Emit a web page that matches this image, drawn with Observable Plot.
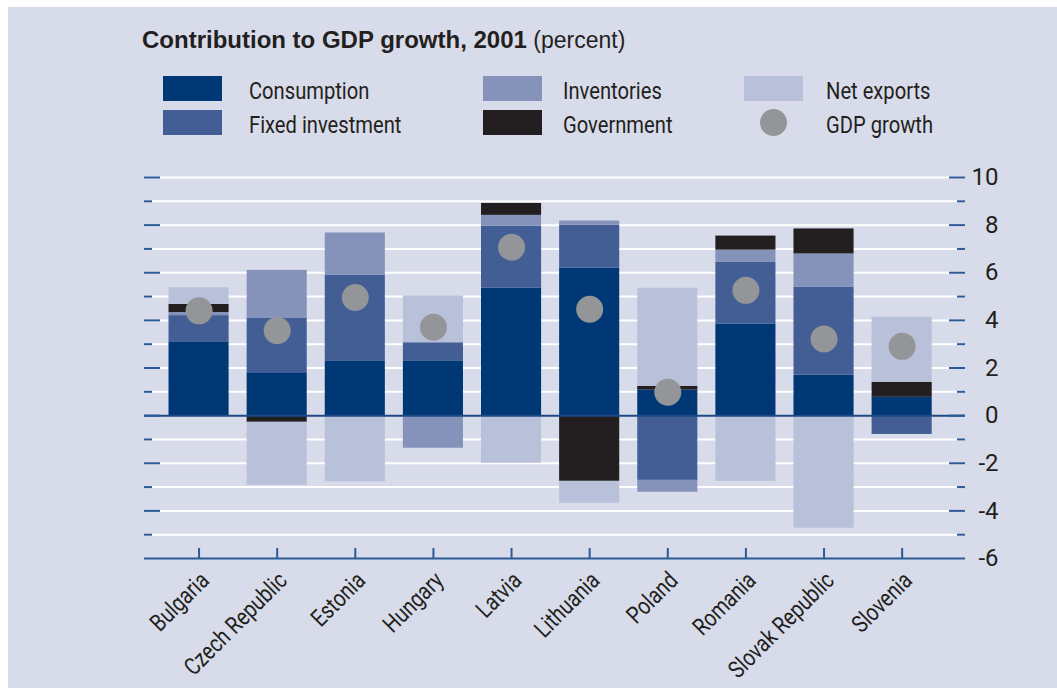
<!DOCTYPE html>
<html>
<head>
<meta charset="utf-8">
<script src="https://cdn.jsdelivr.net/npm/d3@7"></script>
<script src="https://cdn.jsdelivr.net/npm/@observablehq/plot@0.6"></script>
<style>
  html, body { margin: 0; padding: 0; background: #ffffff; }
  body { width: 1057px; height: 688px; position: relative; overflow: hidden; }
  #panel { position: absolute; left: 8px; top: 7px; width: 1049px; height: 681px; background: #d8dbe9; }
  .txt { font-family: "Roboto", sans-serif; color: #231f20; }
  #title { position: absolute; left: 142px; top: 26px; font-family: "Liberation Sans", "Open Sans", sans-serif; font-size: 24px; color: #231f20; white-space: nowrap; }
  #title b { font-weight: bold; }
  #title span { font-size: 23px; }
  .sw { position: absolute; width: 59px; height: 25px; }
  .lab { position: absolute; font-size: 24px; line-height: 26px; white-space: nowrap; transform: scaleX(0.84); transform-origin: 0 50%; }
  .dotsw { position: absolute; width: 27px; height: 27px; border-radius: 50%; background: #939598; }
  #chart { position: absolute; left: 0; top: 150px; }
</style>
</head>
<body>
<div id="panel"></div>
<div id="title"><b>Contribution to GDP growth, 2001</b><span> (percent)</span></div>
<div id="legend"></div>
<div id="chart"></div>
<script>
// ---- data ----
const countries = ["Bulgaria", "Czech Republic", "Estonia", "Hungary", "Latvia", "Lithuania", "Poland", "Romania", "Slovak Republic", "Slovenia"];
const components = ["Consumption", "Fixed investment", "Inventories", "Government", "Net exports"];
const consumption     = [3.1, 1.8, 2.3, 2.3, 5.35, 6.2, 1.07, 3.85, 1.7, 0.77];
const fixedInvestment = [1.1, 2.3, 3.6, 0.76, 2.6, 1.8, -2.72, 2.6, 3.7, -0.79];
const inventories     = [0.13, 2.0, 1.77, -1.37, 0.46, 0.17, -0.5, 0.5, 1.39, 0];
const government      = [0.34, -0.28, 0, 0, 0.5, -2.76, 0.16, 0.59, 1.05, 0.63];
const netExports      = [0.7, -2.65, -2.78, 1.97, -2.0, -0.92, 4.12, -2.76, -4.73, 2.73];
const gdpGrowth       = [4.4, 3.57, 4.96, 3.71, 7.07, 4.47, 0.98, 5.26, 3.22, 2.91];
const yTicks = [-6, -4, -2, 0, 2, 4, 6, 8, 10];
const yMinorTicks = [-5, -3, -1, 1, 3, 5, 7, 9];
const gridLines = [-5, -4, -3, -2, -1, 1, 2, 3, 4, 5, 6, 7, 8, 9, 10];

// ---- style ----
const colors = {
  "Consumption": "#003876",
  "Fixed investment": "#425e95",
  "Inventories": "#8593bb",
  "Government": "#231f20",
  "Net exports": "#b9c1da"
};
const gdpColor = "#939598";
const axisBlue = "#2c5a98";
const fontFamily = '"Roboto", sans-serif';

// ---- legend (HTML) ----
const legendItems = [
  {name: "Consumption", col: 0, row: 0},
  {name: "Fixed investment", col: 0, row: 1},
  {name: "Inventories", col: 1, row: 0},
  {name: "Government", col: 1, row: 1},
  {name: "Net exports", col: 2, row: 0},
  {name: "GDP growth", col: 2, row: 1, dot: true}
];
const colSw = [163, 483, 744];
const colTx = [249, 563, 826];
const rowY = [76, 110];
const legend = document.getElementById("legend");
for (const it of legendItems) {
  if (it.dot) {
    const d = document.createElement("div");
    d.className = "dotsw";
    d.style.left = (colSw[it.col] + 16) + "px";
    d.style.top = (rowY[it.row] - 1) + "px";
    legend.appendChild(d);
  } else {
    const s = document.createElement("div");
    s.className = "sw";
    s.style.left = colSw[it.col] + "px";
    s.style.top = rowY[it.row] + "px";
    s.style.background = colors[it.name];
    legend.appendChild(s);
  }
  const t = document.createElement("div");
  t.className = "lab txt";
  t.style.left = colTx[it.col] + "px";
  t.style.top = (rowY[it.row] + 2) + "px";
  t.textContent = it.name;
  legend.appendChild(t);
}

// ---- build table ----
const series = {
  "Consumption": consumption,
  "Fixed investment": fixedInvestment,
  "Inventories": inventories,
  "Government": government,
  "Net exports": netExports
};
const rows = [];
for (const comp of components) {
  countries.forEach((c, i) => rows.push({country: c, component: comp, value: series[comp][i]}));
}
const gdp = countries.map((c, i) => ({country: c, value: gdpGrowth[i]}));

// ---- chart ----
const W = 1057, H = 538;
const mL = 144, mR = 92, mT = 27, mB = 130;
const plotW = W - mL - mR;
const plotH = H - mT - mB;

const chart = Plot.plot({
  width: W,
  height: H,
  marginLeft: mL,
  marginRight: mR,
  marginTop: mT,
  marginBottom: mB,
  style: {background: "transparent", fontFamily, color: "#231f20"},
  x: {domain: countries, paddingInner: 0.2308, paddingOuter: 0.37, align: 0.424, round: false, label: null},
  y: {domain: [-6, 10], label: null},
  color: {domain: components, range: components.map(c => colors[c])},
  marks: [
    Plot.ruleY(gridLines, {stroke: "#ffffff", strokeWidth: 2}),
    Plot.barY(rows, Plot.stackY({x: "country", y: "value", fill: "component", order: components})),
    Plot.ruleY([0], {stroke: "#1d4a86", strokeWidth: 2}),
    Plot.ruleY([-6], {stroke: axisBlue, strokeWidth: 2}),
    // left ticks
    Plot.ruleY(yTicks.filter(d => d > -6), {stroke: axisBlue, strokeWidth: 2, insetRight: plotW - 16}),
    Plot.ruleY(yMinorTicks, {stroke: axisBlue, strokeWidth: 2, insetRight: plotW - 8}),
    // right ticks
    Plot.ruleY(yTicks.filter(d => d > -6), {stroke: axisBlue, strokeWidth: 2, insetLeft: plotW - 16}),
    Plot.ruleY(yMinorTicks, {stroke: axisBlue, strokeWidth: 2, insetLeft: plotW - 8}),
    // bottom ticks
    Plot.ruleX(countries, {x: d => d, stroke: axisBlue, strokeWidth: 2, insetTop: plotH - 10}),
    Plot.dot(gdp, {x: "country", y: "value", r: 13.5, fill: gdpColor}),
    Plot.axisY(yTicks, {anchor: "right", tickSize: 0, tickPadding: 33, textAnchor: "end", fontSize: 24, tickFormat: d => String(d)}),
    Plot.axisX({anchor: "bottom", tickSize: 0, tickRotate: -45, tickPadding: 18, dx: 6, fontSize: 24, textAnchor: "end"})
  ]
});
// condense the rotated category labels along their reading direction
chart.querySelectorAll("text").forEach(t => {
  if (!countries.includes(t.textContent.trim())) return;
  const el = t.hasAttribute("transform") ? t : t.parentNode;
  const tr = el.getAttribute("transform") || "";
  el.setAttribute("transform", tr + " scale(0.82,1)");
});
document.getElementById("chart").appendChild(chart);
</script>
</body>
</html>
